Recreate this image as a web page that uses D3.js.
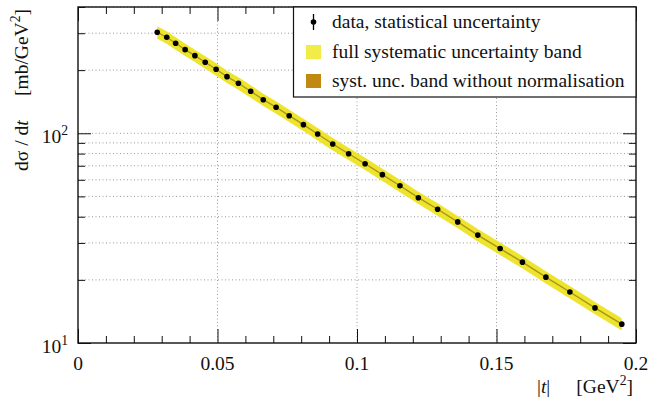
<!DOCTYPE html>
<html>
<head>
<meta charset="utf-8">
<script src="https://cdn.jsdelivr.net/npm/d3@7"></script>
<style>
  html, body { margin: 0; padding: 0; background: #fff; }
  svg { display: block; }
</style>
</head>
<body>
<svg id="chart" width="650" height="401" font-family="'Liberation Serif', 'Times New Roman', Times, 'DejaVu Serif', serif"></svg>
<script>
// |t| values of the measured bins [GeV^2]
const tValues = [
  0.0284, 0.0318, 0.0350, 0.0384, 0.0419, 0.0456, 0.0495, 0.0534, 0.0575, 0.0619,
  0.0664, 0.0710, 0.0757, 0.0808, 0.0859, 0.0913, 0.0970, 0.1029, 0.1091, 0.1154,
  0.1220, 0.1289, 0.1361, 0.1433, 0.1513, 0.1593, 0.1677, 0.1763, 0.1853, 0.1949
];
// dσ/dt [mb/GeV^2]
const dsdtValues = [
  303.1, 287.0, 268.7, 250.4, 234.5, 218.1, 202.0, 186.2, 173.2, 158.6,
  144.6, 133.0, 121.3, 109.9, 99.2, 88.9, 79.9, 71.6, 63.5, 56.2,
  49.3, 43.4, 37.8, 32.7, 28.2, 24.3, 20.6, 17.5, 14.7, 12.3
];
// relative systematic uncertainties
const sysFullRel = 0.068;    // full, including normalisation
const sysNoNormRel = 0.009;  // without normalisation
// axis ranges and labels
const xDomain = [0, 0.2];
const yDomain = [10, 400];
const xMajorTicks = [0, 0.05, 0.1, 0.15, 0.2];
const xTickLabels = ["0", "0.05", "0.1", "0.15", "0.2"];
const yMajorTicks = [10, 100];
const yTickExponents = ["1", "2"];
const legendLabels = [
  "data, statistical uncertainty",
  "full systematic uncertainty band",
  "syst. unc. band without normalisation"
];

const plot = { left: 78, right: 636, top: 7, bottom: 343 };
const fontSize = 19.5;
const supSize = fontSize * 0.7;

const svg = d3.select("#chart");
const x = d3.scaleLinear().domain(xDomain).range([plot.left, plot.right]);
const y = d3.scaleLog().domain(yDomain).range([plot.bottom, plot.top]);

const xMinor = d3.range(0, 0.2001, 0.01).map(v => +v.toFixed(3))
  .filter(v => !xMajorTicks.some(m => Math.abs(m - v) < 1e-9));
const yMinor = [];
[10, 100].forEach(dec => { for (let k = 2; k <= 9; k++) { const v = dec * k; if (v <= yDomain[1]) yMinor.push(v); } });
const yGrid = yMinor.concat([100]);

// dotted grid
const grid = svg.append("g").attr("stroke", "#9a9a9a").attr("stroke-width", 1)
  .attr("stroke-dasharray", "1,2.5");
grid.selectAll("line.gx").data([0.05, 0.1, 0.15]).join("line")
  .attr("x1", d => x(d)).attr("x2", d => x(d))
  .attr("y1", plot.top).attr("y2", plot.bottom);
grid.selectAll("line.gy").data(yGrid).join("line")
  .attr("y1", d => y(d)).attr("y2", d => y(d))
  .attr("x1", plot.left).attr("x2", plot.right);

// systematic bands
const pts = tValues.map((t, i) => ({ t, v: dsdtValues[i] }));
const bandFull = d3.area().x(d => x(d.t))
  .y0(d => y(d.v * (1 - sysFullRel))).y1(d => y(d.v * (1 + sysFullRel)));
const bandNoNorm = d3.area().x(d => x(d.t))
  .y0(d => y(d.v * (1 - sysNoNormRel))).y1(d => y(d.v * (1 + sysNoNormRel)));
svg.append("path").datum(pts).attr("d", bandFull).attr("fill", "#eee42e");
svg.append("path").datum(pts).attr("d", bandNoNorm).attr("fill", "#a89818");

// data points
svg.append("g").selectAll("circle").data(pts).join("circle")
  .attr("cx", d => x(d.t)).attr("cy", d => y(d.v)).attr("r", 2.8).attr("fill", "#000");

// ticks (inward, all four sides)
function tickAxis(axisGen, transform) {
  const g = svg.append("g").attr("transform", transform).call(axisGen);
  g.select(".domain").remove();
  g.selectAll("text").remove();
  g.selectAll("line").attr("stroke", "#111").attr("stroke-width", 1);
  return g;
}
const bottomY = `translate(0,${plot.bottom})`, topY = `translate(0,${plot.top})`;
const leftX = `translate(${plot.left},0)`, rightX = `translate(${plot.right},0)`;
tickAxis(d3.axisBottom(x).tickValues(xMinor).tickSize(-7), bottomY);
tickAxis(d3.axisBottom(x).tickValues(xMajorTicks).tickSize(-14), bottomY);
tickAxis(d3.axisTop(x).tickValues(xMinor).tickSize(-7), topY);
tickAxis(d3.axisTop(x).tickValues(xMajorTicks).tickSize(-14), topY);
tickAxis(d3.axisLeft(y).tickValues(yMinor).tickSize(-7), leftX);
tickAxis(d3.axisLeft(y).tickValues(yMajorTicks).tickSize(-13), leftX);
tickAxis(d3.axisRight(y).tickValues(yMinor).tickSize(-7), rightX);
tickAxis(d3.axisRight(y).tickValues(yMajorTicks).tickSize(-13), rightX);

// frame
svg.append("rect")
  .attr("x", plot.left).attr("y", plot.top)
  .attr("width", plot.right - plot.left).attr("height", plot.bottom - plot.top)
  .attr("fill", "none").attr("stroke", "#111").attr("stroke-width", 1.4);

// x tick labels
svg.append("g").selectAll("text").data(xMajorTicks).join("text")
  .attr("x", d => x(d)).attr("y", 370)
  .attr("text-anchor", "middle").attr("font-size", fontSize).attr("fill", "#111")
  .text((d, i) => xTickLabels[i]);

// y tick labels: 10^n
const yl = svg.append("g").selectAll("text").data(yMajorTicks).join("text")
  .attr("x", 68).attr("y", d => y(d) + 10)
  .attr("text-anchor", "end").attr("font-size", fontSize).attr("fill", "#111");
yl.append("tspan").text("10");
yl.append("tspan").attr("dy", -8).attr("font-size", supSize).text((d, i) => yTickExponents[i]);

// x axis title: |t| and its unit
const xt = svg.append("text").attr("x", 537).attr("y", 393)
  .attr("font-size", fontSize).attr("fill", "#111");
xt.append("tspan").text("|");
xt.append("tspan").attr("font-style", "italic").text("t");
xt.append("tspan").text("|");
const xu = svg.append("text").attr("x", 633).attr("y", 393)
  .attr("text-anchor", "end").attr("font-size", fontSize).attr("fill", "#111");
xu.append("tspan").text("[GeV");
xu.append("tspan").attr("dy", -8).attr("font-size", supSize).text("2");
xu.append("tspan").attr("dy", 8).text("]");

// y axis title
const yt = svg.append("text")
  .attr("transform", "translate(28,9) rotate(-90)")
  .attr("text-anchor", "end").attr("font-size", fontSize).attr("fill", "#111");
yt.append("tspan").text("d\u03c3 / d");
yt.append("tspan").attr("font-style", "italic").text("t");
yt.append("tspan").text("\u2003\u00a0[mb/GeV");
yt.append("tspan").attr("dy", -8).attr("font-size", supSize).text("2");
yt.append("tspan").attr("dy", 8).text("]");

// legend
const lg = svg.append("g");
lg.append("rect").attr("x", 293.5).attr("y", plot.top)
  .attr("width", plot.right - 293.5).attr("height", 90)
  .attr("fill", "#fff").attr("stroke", "#111").attr("stroke-width", 1.2);
const rowY = [22, 52, 81];
lg.append("line").attr("x1", 313.5).attr("x2", 313.5).attr("y1", rowY[0] - 8).attr("y2", rowY[0] + 8)
  .attr("stroke", "#000").attr("stroke-width", 1.3);
lg.append("circle").attr("cx", 313.5).attr("cy", rowY[0]).attr("r", 2.8).attr("fill", "#000");
lg.append("rect").attr("x", 306).attr("y", rowY[1] - 7).attr("width", 15).attr("height", 14).attr("fill", "#f2ec48");
lg.append("rect").attr("x", 306).attr("y", rowY[2] - 7).attr("width", 15).attr("height", 14).attr("fill", "#c08a12");
lg.selectAll("text").data(legendLabels).join("text")
  .attr("x", 332).attr("y", (d, i) => rowY[i] + 6)
  .attr("font-size", fontSize).attr("fill", "#111").text(d => d);
</script>
</body>
</html>
